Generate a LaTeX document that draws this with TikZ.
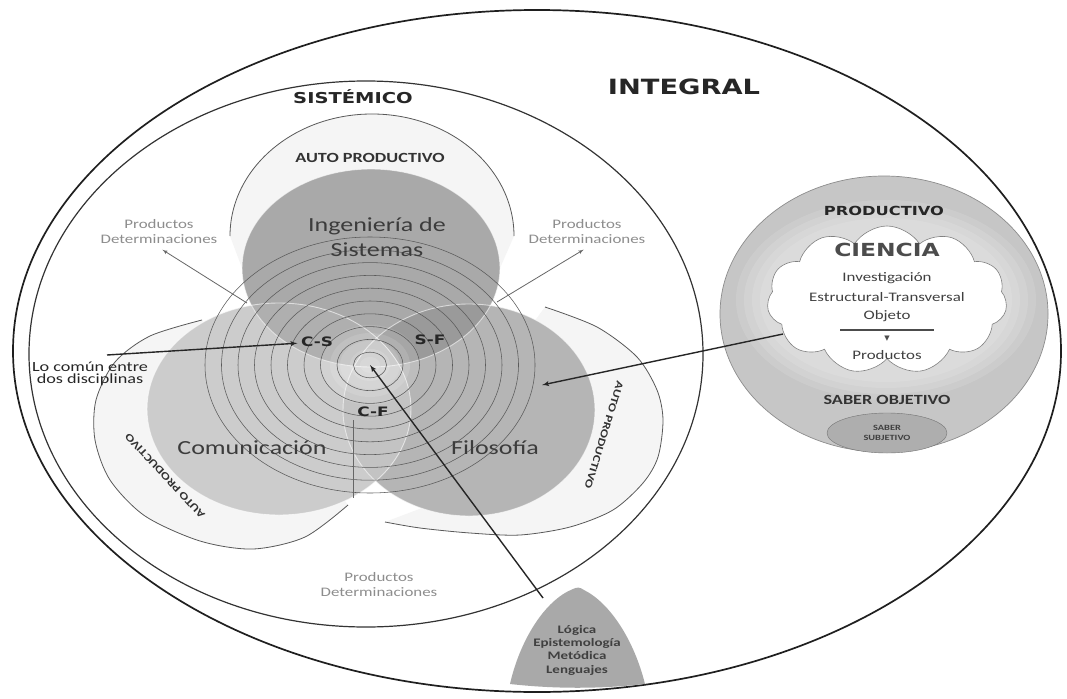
\documentclass[tikz,border=0pt]{standalone}
\usepackage{fontspec}
\setmainfont{Carlito}[FakeStretch=1.3]
\newfontfamily\heavyfont{DejaVu Sans}[FakeStretch=1.3]
\newfontfamily\symbfont{DejaVu Sans}
\usetikzlibrary{shapes}
\usetikzlibrary{arrows}
\usetikzlibrary{positioning}
\usetikzlibrary{calc}

\definecolor{ringgray}{HTML}{5A5A5A}
\definecolor{cirS}{HTML}{A9A9A9}
\definecolor{cirC}{HTML}{CCCCCC}
\definecolor{cirF}{HTML}{B5B5B5}
\definecolor{cirSF}{HTML}{9A9A9A}
\definecolor{cirCS}{HTML}{AFAFAF}
\definecolor{cirCF}{HTML}{C3C3C3}
\definecolor{cirCSF}{HTML}{B7B7B7}
\definecolor{bandgray}{HTML}{F5F5F5}
\definecolor{prodgray}{HTML}{C6C6C6}
\definecolor{subjgray}{HTML}{AEAEAE}
\definecolor{logicgray}{HTML}{A9A9A9}
\definecolor{textgray}{HTML}{3C3C3C}
\definecolor{taggray}{HTML}{8D8D8D}

\newcommand{\sz}[2]{\fontsize{#1}{#2}\selectfont}
\newcommand{\circS}{(371,268) ellipse [x radius = 129pt, y radius = 99pt]}
\newcommand{\circC}{(279,409) ellipse [x radius = 132pt, y radius = 106pt]}
\newcommand{\circF}{(469,410) ellipse [x radius = 126pt, y radius = 106pt]}

\begin{document}
\begin{tikzpicture}[x = 1pt, y = -1pt, > = latex', font = \sz{13}{15}]
\tikzset{
  bigframe/.style = {draw = black!88, line width = 1.7pt},
  sysframe/.style = {draw = black!80, line width = 1.2pt},
  band/.style = {fill = bandgray},
  autoarc/.style = {draw = black!65, line width = 0.8pt},
  ring/.style = {draw = ringgray, line width = 0.55pt},
  rim/.style = {draw = white, line width = 0.9pt, opacity = 0.6},
  discipline/.style = {text = textgray, font = \sz{20}{25}, align = center},
  pair/.style = {text = black!85, font = \heavyfont\bfseries\sz{13}{15}},
  tag/.style = {text = taggray, font = \sz{13}{15}, align = center},
  heading/.style = {text = black!85, font = \heavyfont\bfseries\sz{15}{17}},
  autotext/.style = {text = black!80, font = \bfseries\sz{14}{16}},
  note/.style = {text = black!85, font = \sz{14}{12.5}, align = center},
  inner/.style = {text = black!75, font = \sz{13}{15}, inner sep = 1pt},
  conn/.style = {draw = black!85, line width = 1.4pt},
  thinconn/.style = {draw = black!60, line width = 0.8pt},
}
\useasboundingbox (0,0) rectangle (1067,698);
\fill [white] (0,0) rectangle (1067,698);

% frames
\draw [bigframe] (537,351) ellipse [x radius = 524pt, y radius = 341pt];
\draw [sysframe] (366,354) ellipse [x radius = 337pt, y radius = 273pt];

% auto productivo bands
\fill [band] (230,236) arc [start angle = 180, end angle = 0, x radius = 142pt, y radius = 122pt] -- (500,268) -- (242,268) -- cycle;
\fill [band] plot [smooth] coordinates {(202,320) (150,336) (115,362) (96,400) (95,440) (110,480) (145,516) (200,541) (253,549) (305,537) (348,505)} -- (279,409) -- cycle;
\fill [band] plot [smooth] coordinates {(545,307) (597,327) (637,357) (657,390) (663,420) (658,457) (643,483) (613,510) (570,527) (520,535) (470,533) (420,528) (385,522)} -- (430,505) -- (469,410) -- cycle;

% disciplines
\fill [cirC] \circC;
\fill [cirF] \circF;
\fill [cirS] \circS;
\begin{scope}
  \clip \circS;
  \fill [cirSF] \circF;
  \fill [cirCS] \circC;
\end{scope}
\begin{scope}
  \clip \circC;
  \fill [cirCF] \circF;
\end{scope}
\begin{scope}
  \clip \circS;
  \clip \circC;
  \fill [cirCSF] \circF;
\end{scope}
\coordinate (venncenter) at (370,365);
\foreach \r in {1,...,5}
  \fill [white, opacity = 0.12] (venncenter) ellipse [x radius = {10pt*\r}, y radius = {8pt*\r}];
\draw [rim] \circS;
\draw [rim] \circC;
\draw [rim] \circF;
\foreach \k in {1,...,10}
  \draw [ring] (venncenter) ellipse [x radius = {16.5pt*\k}, y radius = {12.8pt*\k}];

% arcs
\draw [autoarc] (230,236) arc [start angle = 180, end angle = 0, x radius = 142pt, y radius = 122pt];
\draw [autoarc] plot [smooth] coordinates {(202,320) (150,336) (115,362) (96,400) (95,440) (110,480) (145,516) (200,541) (253,549) (305,537) (348,505)};
\draw [autoarc] plot [smooth] coordinates {(545,307) (597,327) (637,357) (657,390) (663,420) (658,457) (643,483) (613,510) (570,527) (520,535) (470,533) (420,528) (385,522)};

% productivo
\filldraw [fill = prodgray, draw = black!45, line width = 0.7pt] (884,314) ellipse [x radius = 164pt, y radius = 138pt];
\foreach \h in {1,...,4}
  \fill [white, opacity = 0.12] (886,300) ellipse [x radius = {118pt+8pt*\h}, y radius = {76pt+6pt*\h}];
\node [cloud, cloud puffs = 11, cloud puff arc = 115, cloud ignores aspect, minimum width = 240pt, minimum height = 148pt, fill = white, draw = black!50, line width = 0.6pt] (ciencia) at (887,300) {};

% logica
\fill [logicgray] (510,684) .. controls (520,640) and (545,600) .. (573,589) .. controls (577,587) and (580,587) .. (584,590) .. controls (610,603) and (634,640) .. (645,684) .. controls (600,689) and (555,689) .. (510,684) -- cycle;

% labels
\node [heading, font = \heavyfont\bfseries\sz{21}{24}] (integral) at (684,87) {INTEGRAL};
\node [heading] (sistemico) at (353,97) {SISTÉMICO};
\node [autotext] (autotop) at (370,158) {AUTO PRODUCTIVO};
\node [autotext, font = \bfseries\sz{10.5}{12}, rotate = 133] (autoleft) at (165,476) {AUTO PRODUCTIVO};
\node [autotext, font = \bfseries\sz{10.5}{12}, rotate = -107] (autoright) at (604,435) {AUTO PRODUCTIVO};
\node [discipline] (ingenieria) at (377,237) {Ingeniería de\\Sistemas};
\node [discipline] (comunicacion) at (252,448) {Comunicación};
\node [discipline] (filosofia) at (495,448) {Filosofía};
\node [pair] (cs) at (317,342) {C-S};
\node [pair] (sf) at (430,340) {S-F};
\node [pair] (cf) at (373,412) {C-F};
\node [tag] (prodleft) at (159,232) {Productos\\Determinaciones};
\node [tag] (prodright) at (587,232) {Productos\\Determinaciones};
\node [tag] (prodbottom) at (379,585) {Productos\\Determinaciones};
\node [note] (comun) at (90,374) {Lo común entre\\dos disciplinas};

\node [heading, font = \heavyfont\bfseries\sz{12.5}{14}] (productivo) at (884,211) {PRODUCTIVO};
\node [heading, font = \heavyfont\bfseries\sz{18}{20}, text = black!70] (cienciatitle) at (887,250) {CIENCIA};
\node [inner] (investigacion) at (887,278) {Investigación};
\node [inner] (estructural) at (887,297) {Estructural-Transversal};
\node [inner] (objeto) at (887,316) {Objeto};
\draw [black!70, line width = 1.6pt] (840,330) -- (934,330);
\node [font = \symbfont\sz{7}{8}, text = black!70] (flecha) at (887,339) {▼};
\node [inner] (productos) at (887,355) {Productos};
\node [autotext, text = black!80] (objetivo) at (887,400) {SABER OBJETIVO};
\node [ellipse, draw = black!55, fill = subjgray, minimum width = 120pt, minimum height = 40pt, align = center, inner sep = 0pt, font = \bfseries\sz{8}{9.5}, text = black!75] (subjetivo) at (887,433) {SABER\\SUBJETIVO};
\node [font = \bfseries\sz{11.5}{13.3}, text = black!75, align = center] (logica) at (577,650) {Lógica\\Epistemología\\Metódica\\Lenguajes};

% connectors
\coordinate (leftjoint) at (247,303);
\coordinate (rightjoint) at (497,302);
\coordinate (bottomjoint) at (353,498);
\coordinate (comuntail) at (107,355);
\coordinate (cloudtail) at (783,334);
\coordinate (filotip) at (542,385);
\coordinate (logictail) at (543,598);
\draw [->, thinconn, shorten > = 4pt] (leftjoint) -- (prodleft.south);
\draw [->, thinconn, shorten > = 4pt] (rightjoint) -- (prodright.south);
\draw [thinconn] (cf.south -| bottomjoint) -- (bottomjoint);
\draw [->, conn] (comuntail) -- (cs);
\draw [->, conn] (cloudtail) -- (filotip);
\draw [->, conn] (logictail) -- (venncenter);
\end{tikzpicture}
\end{document}
